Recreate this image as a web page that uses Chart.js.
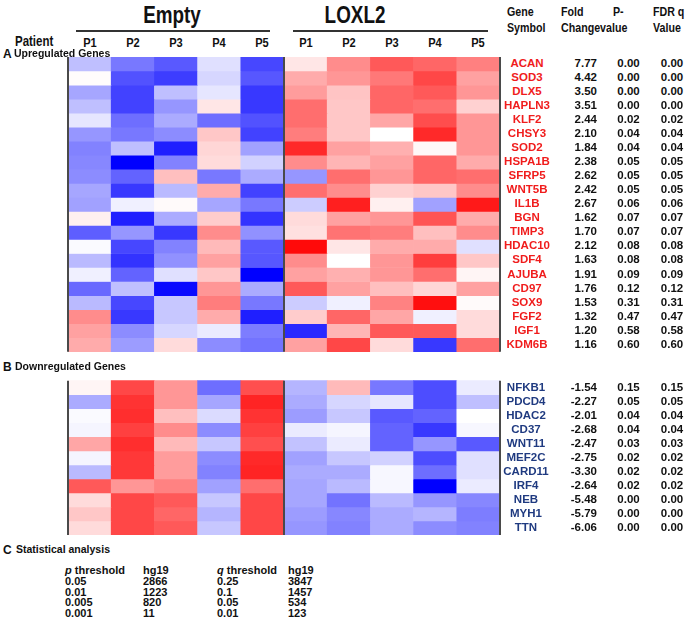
<!DOCTYPE html>
<html><head><meta charset="utf-8">
<script src="https://cdn.jsdelivr.net/npm/chart.js@4.4.0/dist/chart.umd.min.js"></script>
<style>
body{margin:0;background:#fff;width:685px;height:626px;overflow:hidden;position:relative;font-family:"Liberation Sans",Arial,sans-serif;}
.t{position:absolute;white-space:nowrap;font-weight:bold;line-height:1;color:#111;}
#wrap{position:absolute;left:60px;top:57px;width:450px;height:478px;}
.hl{position:absolute;height:1.5px;background:#333;}
</style></head><body>
<div id="wrap"><canvas id="c" width="450" height="478"></canvas></div>
<script>
// ---------- data ----------
const groups = ['Empty', 'LOXL2'];
const patients = ['P1', 'P2', 'P3', 'P4', 'P5'];

const upGenes = ['ACAN','SOD3','DLX5','HAPLN3','KLF2','CHSY3','SOD2','HSPA1B','SFRP5','WNT5B','IL1B','BGN','TIMP3','HDAC10','SDF4','AJUBA','CD97','SOX9','FGF2','IGF1','KDM6B'];
const upFold = [7.77,4.42,3.50,3.51,2.44,2.10,1.84,2.38,2.62,2.42,2.67,1.62,1.70,2.12,1.63,1.91,1.76,1.53,1.32,1.20,1.16];
const upP = [0.00,0.00,0.00,0.00,0.02,0.04,0.04,0.05,0.05,0.05,0.06,0.07,0.07,0.08,0.08,0.09,0.12,0.31,0.47,0.58,0.60];
const upQ = [0.00,0.00,0.00,0.00,0.02,0.04,0.04,0.05,0.05,0.05,0.06,0.07,0.07,0.08,0.08,0.09,0.12,0.31,0.47,0.58,0.60];
// relative expression (-1 blue .. +1 red), columns: Empty P1-P5, LOXL2 P1-P5
const upValues = [
 [-0.25,-0.53,-0.65,-0.12,-0.72, 0.10,0.45,0.65,0.60,0.50],
 [ 0.01,-0.68,-0.76,-0.16,-0.66, 0.33,0.41,0.53,0.72,0.37],
 [-0.35,-0.74,-0.25,-0.10,-0.78, 0.39,0.23,0.60,0.65,0.41],
 [-0.25,-0.74,-0.41, 0.10,-0.78, 0.57,0.22,0.60,0.57,0.18],
 [-0.10,-0.57,-0.33,-0.57,-0.68, 0.57,0.22,0.35,0.70,0.41],
 [-0.41,-0.53,-0.45, 0.22,-0.74, 0.51,0.22,0.00,0.84,0.41],
 [-0.49,-0.25,-0.88, 0.16,-0.37, 0.84,0.37,0.31,0.03,0.41],
 [-0.47,-1.00,-0.49, 0.14,-0.18, 0.45,0.29,0.37,0.60,0.33],
 [-0.45,-0.61, 0.25,-0.53,-0.33,-0.41,0.57,0.41,0.60,0.57],
 [-0.35,-0.78,-0.27, 0.33,-0.74, 0.57,0.45,0.18,0.22,0.45],
 [-0.37,-0.06, 0.02,-0.35,-0.53,-0.20,0.88,0.06,-0.37,0.90],
 [ 0.06,-0.88,-0.33, 0.20,-0.80, 0.14,0.37,0.41,0.67,0.33],
 [-0.63,-0.41,-0.78, 0.45,-0.43, 0.12,0.55,0.51,0.25,0.45],
 [-0.02,-0.72,-0.49, 0.27,-0.65, 0.96,0.10,0.33,0.33,-0.12],
 [-0.27,-0.80,-0.43, 0.37,-0.66, 0.45,0.00,0.41,0.76,0.22],
 [-0.06,-0.61,-0.12, 0.22,-1.00, 0.37,0.31,0.41,0.57,0.04],
 [-0.59,-0.25,-0.96, 0.41,-0.33, 0.65,0.37,0.25,0.16,0.37],
 [-0.27,-0.72,-0.22, 0.51,-0.53,-0.20,-0.06,0.49,0.94,0.02],
 [ 0.45,-0.78,-0.22, 0.33,-0.88, 0.20,0.60,0.35,-0.06,0.14],
 [ 0.37,-0.45,-0.16,-0.08,-0.51,-0.84,0.29,0.65,0.65,0.14],
 [ 0.33,-0.39, 0.14,-0.45,-0.55, 0.37,0.72,0.14,-0.78,0.57]
];

const downGenes = ['NFKB1','PDCD4','HDAC2','CD37','WNT11','MEF2C','CARD11','IRF4','NEB','MYH1','TTN'];
const downFold = [-1.54,-2.27,-2.01,-2.68,-2.47,-2.75,-3.30,-2.64,-5.48,-5.79,-6.06];
const downP = [0.15,0.05,0.04,0.04,0.03,0.02,0.02,0.02,0.00,0.00,0.00];
const downQ = [0.15,0.05,0.04,0.04,0.03,0.02,0.02,0.02,0.00,0.00,0.00];
const downValues = [
 [ 0.04,0.72,0.41,-0.57,0.69,-0.29, 0.27,-0.53,-0.70,-0.08],
 [-0.33,0.80,0.41,-0.35,0.86,-0.33,-0.16,-0.10,-0.70,-0.25],
 [-0.02,0.82,0.25,-0.14,0.80,-0.39,-0.22,-0.65,-0.61, 0.00],
 [-0.04,0.75,0.45,-0.45,0.75,-0.08,-0.04,-0.61,-0.78,-0.03],
 [ 0.35,0.82,0.27,-0.22,0.69,-0.24,-0.08,-0.61,-0.41,-0.65],
 [-0.04,0.78,0.39,-0.45,0.84,-0.37,-0.22,-0.18,-0.70,-0.12],
 [-0.27,0.78,0.39,-0.49,0.86,-0.33,-0.33,-0.03,-0.57,-0.12],
 [ 0.65,0.41,0.49,-0.37,0.57,-0.35,-0.27,-0.03,-1.00,-0.08],
 [ 0.14,0.72,0.65,-0.22,0.72,-0.35,-0.55,-0.27,-0.41,-0.47],
 [ 0.22,0.72,0.60,-0.29,0.72,-0.39,-0.47,-0.33,-0.29,-0.51],
 [ 0.14,0.72,0.65,-0.22,0.72,-0.41,-0.49,-0.33,-0.45,-0.49]
];

const statPThr = ['0.05','0.01','0.005','0.001'];
const statPHg = ['2866','1223','820','11'];
const statQThr = ['0.25','0.1','0.05','0.01'];
const statQHg = ['3847','1457','534','123'];

// ---------- chart ----------
const GAP = 2.06;
const N_UP = upGenes.length, N_DOWN = downGenes.length;
const Y_MAX = N_UP + GAP + N_DOWN;
const labels = [];
groups.forEach(g => patients.forEach(p => labels.push(g + ' ' + p)));

function heat(v){
  if (v >= 0){ const c = Math.round(255*(1-v)); return `rgb(255,${c},${c})`; }
  const c = Math.round(255*(1+v)); return `rgb(${c},${c},255)`;
}
const datasets = [];
function addRows(values, offset){
  values.forEach((row, r) => {
    datasets.push({
      data: row.map(() => [offset + r, offset + r + 1]),
      backgroundColor: row.map(heat),
      borderWidth: 0, grouped: false,
      barPercentage: 1, categoryPercentage: 1
    });
  });
}
addRows(upValues, 0);
addRows(downValues, N_UP + GAP);

const sepPlugin = {
  id: 'sep',
  afterDatasetsDraw(chart){
    const {ctx, chartArea: a, scales: {x, y}} = chart;
    const mid = (x.getPixelForValue(4) + x.getPixelForValue(5)) / 2;
    const xs = [a.left, mid, a.right];
    ctx.save();
    ctx.strokeStyle = '#4a4a4a'; ctx.lineWidth = 2;
    [[0, N_UP], [N_UP + GAP, Y_MAX]].forEach(([y0, y1]) => {
      xs.forEach(px => {
        ctx.beginPath();
        ctx.moveTo(px, y.getPixelForValue(y0));
        ctx.lineTo(px, y.getPixelForValue(y1));
        ctx.stroke();
      });
    });
    ctx.restore();
  }
};

new Chart(document.getElementById('c'), {
  type: 'bar',
  data: { labels, datasets },
  options: {
    responsive: false, animation: false, devicePixelRatio: 1,
    layout: { padding: { left: 8, right: 10, top: 0, bottom: 0 } },
    plugins: { legend: { display: false }, tooltip: { enabled: false } },
    scales: {
      x: { display: false, offset: true },
      y: { display: false, min: 0, max: Y_MAX, reverse: true }
    }
  },
  plugins: [sepPlugin]
});

// ---------- text ----------
function txt(s, x, y, o = {}){
  const d = document.createElement('div');
  d.className = 't';
  d.textContent = s;
  d.style.fontSize = (o.size || 11.5) + 'px';
  if (o.color) d.style.color = o.color;
  d.style.left = x + 'px'; d.style.top = y + 'px';
  const al = o.align || 'left';
  const tx = al === 'center' ? '-50%' : al === 'right' ? '-100%' : '0';
  const sx = o.narrow ? ` scaleX(${o.narrow})` : '';
  d.style.transform = `translate(${tx},-50%)` + sx;
  d.style.transformOrigin = al === 'center' ? 'center' : al === 'right' ? 'right' : 'left';
  document.body.appendChild(d);
  return d;
}
function hline(x0, x1, y){
  const d = document.createElement('div'); d.className = 'hl';
  d.style.left = x0 + 'px'; d.style.width = (x1 - x0) + 'px'; d.style.top = y + 'px';
  document.body.appendChild(d);
}
const NAR = 0.82;
txt(groups[0], 172, 15, {size: 23, align: 'center', narrow: NAR});
txt(groups[1], 355, 15, {size: 23, align: 'center', narrow: NAR});
hline(76, 270, 30);
hline(293, 488, 30);
txt('Patient', 15, 41, {size: 14, narrow: NAR});
const colW = 432 / 10;
labels.forEach((l, i) => txt(patients[i % 5], 68 + colW * (i + 0.5), 43, {size: 13.5, align: 'center', narrow: NAR}));
txt('Gene', 507, 11, {size: 13, narrow: NAR});
txt('Symbol', 507, 27, {size: 13, narrow: NAR});
txt('Fold', 561, 11, {size: 13, narrow: NAR});
txt('P-', 613, 11, {size: 13, narrow: NAR});
txt('Changevalue', 561, 27, {size: 13, narrow: NAR});
txt('FDR q', 653, 11, {size: 13, narrow: NAR});
txt('Value', 653, 27, {size: 13, narrow: NAR});

txt('A', 3, 54, {size: 12});
txt('Upregulated Genes', 14, 53, {size: 10.5});
txt('B', 3, 367, {size: 12});
txt('Downregulated Genes', 15, 366, {size: 10.5});
txt('C', 3, 550, {size: 12});
txt('Statistical analysis', 16, 549, {size: 10.5});

const ROW = 478 / Y_MAX;
upGenes.forEach((g, i) => {
  const y = 57 + ROW * (i + 0.5);
  txt(g, 527, y, {color: '#f01c1c', align: 'center'});
  txt(upFold[i].toFixed(2), 597, y, {align: 'right'});
  txt(upP[i].toFixed(2), 628.5, y, {align: 'center'});
  txt(upQ[i].toFixed(2), 672, y, {align: 'center'});
});
downGenes.forEach((g, i) => {
  const y = 57 + ROW * (N_UP + GAP + i + 0.5);
  txt(g, 526, y, {color: '#1f3a80', align: 'center'});
  txt(downFold[i].toFixed(2), 597, y, {align: 'right'});
  txt(downP[i].toFixed(2), 628.5, y, {align: 'center'});
  txt(downQ[i].toFixed(2), 672, y, {align: 'center'});
});

const sy = [570, 581, 591.5, 602, 612.5];
const ph = txt('', 65, sy[0], {size: 11}); ph.innerHTML = '<i>p</i> threshold';
txt('hg19', 143, sy[0], {size: 11});
const qh = txt('', 217, sy[0], {size: 11}); qh.innerHTML = '<i>q</i> threshold';
txt('hg19', 288, sy[0], {size: 11});
statPThr.forEach((v, i) => {
  txt(v, 65, sy[i + 1], {size: 11});
  txt(statPHg[i], 143, sy[i + 1], {size: 11});
  txt(statQThr[i], 217, sy[i + 1], {size: 11});
  txt(statQHg[i], 288, sy[i + 1], {size: 11});
});
</script>
</body></html>
